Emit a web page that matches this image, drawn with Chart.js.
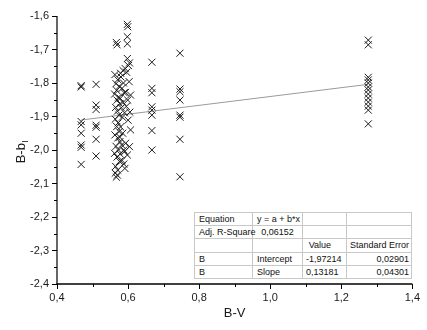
<!DOCTYPE html>
<html>
<head>
<meta charset="utf-8">
<script src="https://cdn.jsdelivr.net/npm/chart.js@4.4.1/dist/chart.umd.min.js"></script>
<style>
  html, body { margin: 0; padding: 0; background: #fff; }
  #wrap { position: relative; width: 427px; height: 330px; }
  #fitTable {
    position: absolute; left: 194px; top: 212px; width: 217px; height: 67px;
    border-collapse: collapse; background: #fff; z-index: 2;
    font-family: "Liberation Sans", Arial, sans-serif; font-size: 9px; color: #111;
    table-layout: fixed; border: 1px solid #8a8a8a;
  }
  #fitTable td { border: 1px solid #c8c8c8; padding: 0 3px; height: 12px; line-height: 12px; white-space: nowrap; overflow: visible; }
  #fitTable td.c1 { text-align: left; padding-left: 4px; }
  #fitTable td.c2 { text-align: left; padding-left: 4px; }
  #fitTable td.c2n { text-align: center; }
  #fitTable td.c3 { text-align: right; padding-right: 15px; }
  #fitTable td.c4 { text-align: right; padding-right: 2px; }
</style>
</head>
<body>
<div id="wrap">
  <canvas id="c" width="427" height="330"></canvas>
  <table id="fitTable"></table>
</div>
<script>
// ---- Data ----
const groupBV = [0.468, 0.510, 0.667, 0.746, 1.276];
const bb047 = [-1.808, -1.812, -1.915, -1.925, -1.950, -1.985, -1.992, -2.043];
const bb051 = [-1.804, -1.866, -1.879, -1.926, -1.932, -1.968, -2.018];
const bb067 = [-1.738, -1.816, -1.829, -1.871, -1.881, -1.896, -1.942, -2.000];
const bb075 = [-1.711, -1.818, -1.826, -1.851, -1.896, -1.902, -1.968, -2.080];
const bb128 = [-1.672, -1.686, -1.783, -1.791, -1.800, -1.812, -1.821, -1.833, -1.845, -1.857, -1.869, -1.881, -1.922];

// main cluster (B-V about 0.56 - 0.61)
const mainBV = [
  0.598, 0.599, 0.598, 0.598, 0.567, 0.569, 0.598, 0.604, 0.601, 0.592, 0.586, 0.579,
  0.563, 0.571, 0.566, 0.575, 0.568, 0.562, 0.573, 0.569, 0.577, 0.565, 0.570, 0.574, 0.564, 0.572,
  0.580, 0.587, 0.583, 0.589, 0.578, 0.586, 0.581, 0.590, 0.584,
  0.596, 0.603, 0.593, 0.607, 0.599, 0.595, 0.605, 0.600,
  0.568, 0.575, 0.563, 0.571, 0.577, 0.566, 0.573, 0.562, 0.569, 0.576, 0.565, 0.571, 0.564, 0.570, 0.567,
  0.579, 0.585, 0.577, 0.582, 0.588, 0.578, 0.583,
  0.607, 0.593, 0.604, 0.590, 0.598, 0.588, 0.591
];
const mainBB = [
  -1.625, -1.632, -1.662, -1.683, -1.679, -1.686, -1.727, -1.740, -1.748, -1.757, -1.763, -1.771,
  -1.775, -1.790, -1.802, -1.810, -1.822, -1.833, -1.842, -1.851, -1.862, -1.873, -1.884, -1.896, -1.908, -1.919,
  -1.782, -1.800, -1.816, -1.829, -1.846, -1.858, -1.874, -1.889, -1.902,
  -1.768, -1.796, -1.828, -1.836, -1.851, -1.870, -1.887, -1.911,
  -1.930, -1.945, -1.955, -1.964, -1.975, -1.989, -2.000, -2.010, -2.021, -2.034, -2.049, -2.060, -2.069, -2.075, -2.081,
  -1.931, -1.950, -1.962, -1.985, -2.000, -2.012, -2.031,
  -1.940, -1.980, -1.990, -2.005, -2.015, -2.042, -2.055
];

const fitIntercept = -1.97214;
const fitSlope = 0.13181;
const fitRange = [0.468, 1.276];

const xTicks = [0.4, 0.6, 0.8, 1.0, 1.2, 1.4];
const yTicks = [-2.4, -2.3, -2.2, -2.1, -2.0, -1.9, -1.8, -1.7, -1.6];

const tableRows = [
  ["Equation", "y = a + b*x", "", ""],
  ["Adj. R-Square", "0,06152", "", ""],
  ["", "", "Value", "Standard Error"],
  ["B", "Intercept", "-1,97214", "0,02901"],
  ["B", "Slope", "0,13181", "0,04301"]
];

// ---- Build points ----
const groupSeries = [bb047, bb051, bb067, bb075, bb128];
const points = [];
groupSeries.forEach((arr, i) => arr.forEach(v => points.push({ x: groupBV[i], y: v })));
mainBV.forEach((x, i) => points.push({ x: x, y: mainBB[i] }));
const fitPoints = fitRange.map(x => ({ x: x, y: fitIntercept + fitSlope * x }));

const fmt = v => (Math.round(v * 10) / 10).toFixed(1).replace('.', ',');
const FONT = '"Liberation Sans", Arial, sans-serif';

const axesPlugin = {
  id: 'originAxes',
  afterDraw(chart) {
    const ctx = chart.ctx;
    const xs = chart.scales.x, ys = chart.scales.y;
    const a = chart.chartArea;
    ctx.save();
    ctx.strokeStyle = '#000';
    ctx.lineWidth = 1.2;
    ctx.beginPath(); ctx.moveTo(a.left, a.top); ctx.lineTo(a.left, a.bottom + 0.6); ctx.stroke();
    ctx.lineWidth = 1.6;
    ctx.beginPath(); ctx.moveTo(a.left - 0.6, a.bottom); ctx.lineTo(a.right, a.bottom); ctx.stroke();
    ctx.lineWidth = 1;
    for (let k = 0; k <= 16; k++) {
      const v = -2.4 + k * 0.05;
      const py = Math.round(ys.getPixelForValue(v)) + 0.5;
      const len = (k % 2 === 0) ? 5 : 3;
      ctx.beginPath(); ctx.moveTo(a.left - len, py); ctx.lineTo(a.left, py); ctx.stroke();
    }
    for (let k = 0; k <= 10; k++) {
      const v = 0.4 + k * 0.1;
      const px = Math.round(xs.getPixelForValue(v)) + 0.5;
      const len = (k % 2 === 0) ? 5 : 3;
      ctx.beginPath(); ctx.moveTo(px, a.bottom); ctx.lineTo(px, a.bottom + len); ctx.stroke();
    }
    ctx.fillStyle = '#1a1a1a';
    ctx.font = '13px ' + FONT;
    ctx.textAlign = 'center';
    ctx.textBaseline = 'middle';
    ctx.fillText('B-V', (a.left + a.right) / 2, 313);
    ctx.translate(25, (a.top + a.bottom) / 2 + 2);
    ctx.rotate(-Math.PI / 2);
    ctx.textAlign = 'left';
    ctx.textBaseline = 'alphabetic';
    ctx.font = '13px ' + FONT;
    const main = 'B-b';
    const w1 = ctx.measureText(main).width;
    ctx.font = '9px ' + FONT;
    const w2 = ctx.measureText('I').width;
    const start = -(w1 + w2) / 2;
    ctx.font = '13px ' + FONT;
    ctx.fillText(main, start, 0);
    ctx.font = '9px ' + FONT;
    ctx.fillText('I', start + w1 + 0.5, 3);
    ctx.restore();
  }
};

new Chart(document.getElementById('c'), {
  type: 'scatter',
  data: {
    datasets: [
      {
        type: 'line',
        data: fitPoints,
        borderColor: '#9a9a9a',
        borderWidth: 1,
        pointRadius: 0,
        fill: false,
        order: 2
      },
      {
        data: points,
        pointStyle: 'crossRot',
        pointRadius: 5,
        pointBorderWidth: 1,
        borderColor: '#1c1c1c',
        backgroundColor: '#1c1c1c',
        order: 1
      }
    ]
  },
  options: {
    responsive: false,
    animation: false,
    devicePixelRatio: 1,
    events: [],
    layout: { padding: { top: 16, right: 10, left: 0, bottom: 0 } },
    plugins: { legend: { display: false }, tooltip: { enabled: false } },
    scales: {
      x: {
        type: 'linear', min: 0.4, max: 1.4,
        afterBuildTicks: s => { s.ticks = xTicks.map(v => ({ value: v })); },
        afterFit: s => { s.height = 46; },
        grid: { display: false, drawTicks: false },
        border: { display: false },
        ticks: { padding: 7, color: '#1a1a1a', font: { family: FONT, size: 11 }, callback: v => fmt(v), maxRotation: 0, autoSkip: false }
      },
      y: {
        type: 'linear', min: -2.4, max: -1.6,
        afterBuildTicks: s => { s.ticks = yTicks.map(v => ({ value: v })); },
        afterFit: s => { s.width = 57; },
        grid: { display: false, drawTicks: false },
        border: { display: false },
        ticks: { padding: 8, color: '#1a1a1a', font: { family: FONT, size: 11 }, callback: v => fmt(v), autoSkip: false }
      }
    }
  },
  plugins: [axesPlugin]
});

// ---- Fit table ----
const tbl = document.getElementById('fitTable');
const colWidths = [58, 50, 44, 65];
const cg = document.createElement('colgroup');
colWidths.forEach(w => { const c = document.createElement('col'); c.style.width = w + 'px'; cg.appendChild(c); });
tbl.appendChild(cg);
tableRows.forEach((row, r) => {
  const tr = document.createElement('tr');
  row.forEach((txt, ci) => {
    const td = document.createElement('td');
    td.textContent = txt;
    let cls = ['c1', 'c2', 'c3', 'c4'][ci];
    if (ci === 1 && r === 1) cls = 'c2n';
    td.className = cls;
    tr.appendChild(td);
  });
  tbl.appendChild(tr);
});
</script>
</body>
</html>
